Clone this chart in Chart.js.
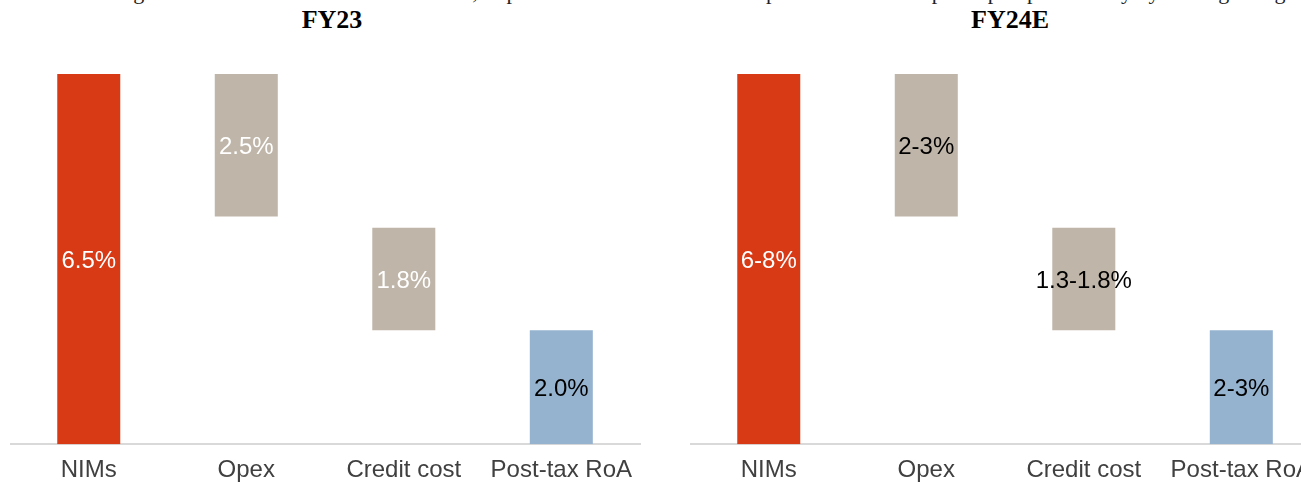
<!DOCTYPE html>
<html lang="en">
<head>
    <meta charset="UTF-8">
    <title>NIMs to RoA | FY23 vs FY24E</title>
    <script src="https://cdn.jsdelivr.net/npm/chart.js"></script>
    <style>
        html, body {
            margin: 0;
            width: 1301px;
            height: 484px;
            overflow: hidden;
            background: #fff;
            position: relative;
        }
        .note {
            position: absolute;
            left: 0;
            top: -21px;
            white-space: nowrap;
            font: 22px "Liberation Serif", "Times New Roman", serif;
            color: #222;
        }
        .title {
            position: absolute;
            top: 5px;
            width: 200px;
            text-align: center;
            font: bold 26px "Liberation Serif", "Times New Roman", serif;
            color: #000;
        }
        .box {
            position: absolute;
            top: 0;
            width: 634px;
            height: 497px;
        }
    </style>
</head>
<body>

    <div class="note">aced the lending focus on interest income. In addition, improvement in credit cost is expected to lead to a pick-up in profitability by the beginning of</div>

    <div class="title" style="left:232px">FY23</div>
    <div class="title" style="left:910px">FY24E</div>

    <div class="box" style="left:10px"><canvas id="fy23Chart"></canvas></div>
    <div class="box" style="left:690px"><canvas id="fy24Chart"></canvas></div>

    <script>
        // categories
        const categories = ['NIMs', 'Opex', 'Credit cost', 'Post-tax RoA'];

        // floating bar ranges, % of assets (bottom, top)
        const fy23Low  = [0, 4.0, 2.0, 0];
        const fy23High = [6.5, 6.5, 3.8, 2.0];
        const fy24Low  = [0, 4.0, 2.0, 0];
        const fy24High = [6.5, 6.5, 3.8, 2.0];

        // value labels
        const fy23Labels = ['6.5%', '2.5%', '1.8%', '2.0%'];
        const fy24Labels = ['6-8%', '2-3%', '1.3-1.8%', '2-3%'];

        const barColors = ['#d83a16', '#bfb5a8', '#bfb5a8', '#95b3cf'];
        const fy23LabelColors = ['#fff', '#fff', '#fff', '#000'];
        const fy24LabelColors = ['#fff', '#000', '#000', '#000'];

        // draws the text in the middle of each bar
        const barText = {
            id: 'barText',
            afterDatasetsDraw(chart, args, opts) {
                const ctx = chart.ctx;
                const meta = chart.getDatasetMeta(0);
                ctx.save();
                ctx.font = '24px "Liberation Sans", Arial, sans-serif';
                ctx.textAlign = 'center';
                ctx.textBaseline = 'middle';
                meta.data.forEach((bar, i) => {
                    ctx.fillStyle = opts.colors[i];
                    ctx.fillText(opts.labels[i], bar.x, (bar.y + bar.base) / 2 + 2);
                });
                ctx.restore();
            }
        };

        function makeChart(id, low, high, labels, labelColors) {
            let ctx = document.getElementById(id).getContext('2d');
            return new Chart(ctx, {
                type: 'bar',
                data: {
                    labels: categories,
                    datasets: [{
                        data: low.map((v, i) => [v, high[i]]),
                        backgroundColor: barColors,
                        borderWidth: 0,
                        barPercentage: 0.4,
                        categoryPercentage: 1.0
                    }]
                },
                options: {
                    responsive: true,
                    maintainAspectRatio: false,
                    animation: false,
                    layout: { padding: { top: 74, bottom: 0, left: 0, right: 0 } },
                    plugins: {
                        legend: { display: false },
                        tooltip: { enabled: false },
                        barText: { labels: labels, colors: labelColors }
                    },
                    scales: {
                        x: {
                            grid: { display: false, drawTicks: false },
                            border: { display: true, color: '#d9d9d9', width: 2 },
                            ticks: {
                                color: '#404040',
                                padding: 12,
                                maxRotation: 0,
                                autoSkip: false,
                                font: { family: '"Liberation Sans", Arial, sans-serif', size: 24 }
                            }
                        },
                        y: {
                            display: false,
                            min: 0,
                            max: 6.5
                        }
                    }
                },
                plugins: [barText]
            });
        }

        makeChart('fy23Chart', fy23Low, fy23High, fy23Labels, fy23LabelColors);
        makeChart('fy24Chart', fy24Low, fy24High, fy24Labels, fy24LabelColors);
    </script>

</body>
</html>
